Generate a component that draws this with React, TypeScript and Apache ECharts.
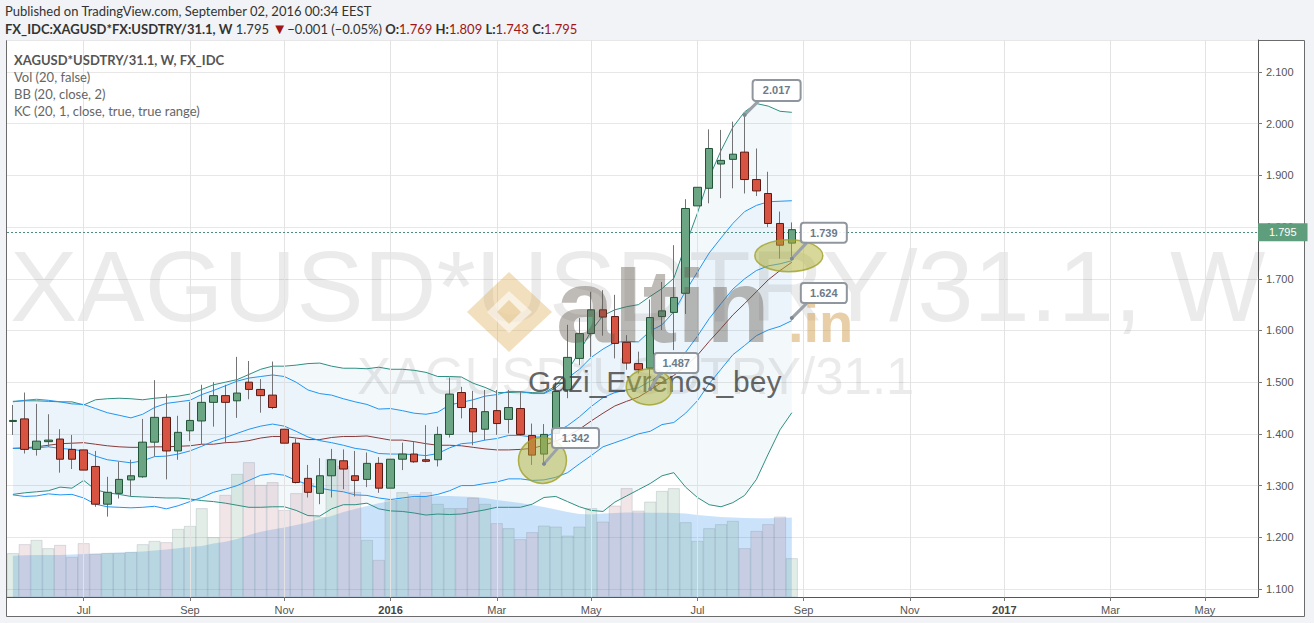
import React, { useEffect, useRef } from 'react';
import * as echarts from 'echarts';

// ---------- categories (weekly bars, Mondays) ----------
const START_UTC = Date.UTC(2015, 4, 25);
const WEEK_COUNT = 106;
const categories: string[] = Array.from({ length: WEEK_COUNT }, (_, i) =>
  new Date(START_UTC + i * 7 * 86400000).toISOString().slice(0, 10)
);

const tickDates = ['2015-07-06', '2015-09-07', '2015-11-02', '2016-01-04', '2016-03-07', '2016-05-02',
  '2016-07-04', '2016-09-05', '2016-11-07', '2017-01-02', '2017-03-06', '2017-05-01'];
const tickLabels = ['Jul', 'Sep', 'Nov', '2016', 'Mar', 'May', 'Jul', 'Sep', 'Nov', '2017', 'Mar', 'May'];

// ---------- OHLC ----------
const opens = [
  1.424, 1.429, 1.370, 1.385, 1.390, 1.370, 1.369, 1.337, 1.264, 1.285,
  1.311, 1.317, 1.384, 1.432, 1.367, 1.406, 1.425, 1.461, 1.474, 1.464,
  1.500, 1.486, 1.475, 1.409, 1.382, 1.314, 1.285, 1.319, 1.348, 1.319,
  1.312, 1.343, 1.295, 1.351, 1.361, 1.350, 1.350, 1.399, 1.480, 1.449,
  1.409, 1.445, 1.428, 1.449, 1.397, 1.361, 1.401, 1.485, 1.546, 1.594,
  1.640, 1.627, 1.577, 1.536, 1.527, 1.627, 1.635, 1.672, 1.841, 1.875,
  1.922, 1.931, 1.945, 1.892, 1.865, 1.807, 1.769];
const closes = [
  1.426, 1.370, 1.386, 1.388, 1.351, 1.351, 1.330, 1.264, 1.287, 1.312,
  1.319, 1.384, 1.432, 1.367, 1.403, 1.426, 1.461, 1.474, 1.461, 1.479,
  1.486, 1.474, 1.451, 1.382, 1.306, 1.287, 1.319, 1.350, 1.332, 1.310,
  1.343, 1.295, 1.351, 1.361, 1.346, 1.347, 1.399, 1.477, 1.451, 1.404,
  1.443, 1.420, 1.451, 1.399, 1.359, 1.399, 1.482, 1.548, 1.594, 1.640,
  1.626, 1.575, 1.537, 1.524, 1.625, 1.638, 1.664, 1.836, 1.877, 1.952,
  1.929, 1.941, 1.892, 1.870, 1.807, 1.765, 1.795];
const highs = [
  1.456, 1.480, 1.458, 1.438, 1.409, 1.398, 1.383, 1.367, 1.317, 1.346,
  1.350, 1.429, 1.504, 1.477, 1.435, 1.462, 1.495, 1.500, 1.495, 1.549,
  1.541, 1.506, 1.540, 1.430, 1.391, 1.340, 1.353, 1.371, 1.370, 1.367,
  1.364, 1.355, 1.399, 1.383, 1.385, 1.417, 1.414, 1.509, 1.491, 1.483,
  1.485, 1.485, 1.485, 1.482, 1.420, 1.419, 1.500, 1.611, 1.624, 1.675,
  1.678, 1.669, 1.591, 1.559, 1.660, 1.694, 1.765, 1.854, 1.975, 1.989,
  1.988, 2.004, 2.017, 1.952, 1.907, 1.830, 1.809];
const lows = [
  1.398, 1.362, 1.358, 1.375, 1.325, 1.332, 1.262, 1.259, 1.240, 1.275,
  1.280, 1.315, 1.356, 1.312, 1.350, 1.386, 1.380, 1.414, 1.382, 1.431,
  1.467, 1.441, 1.448, 1.353, 1.304, 1.277, 1.264, 1.277, 1.293, 1.279,
  1.297, 1.286, 1.293, 1.330, 1.344, 1.345, 1.337, 1.393, 1.430, 1.378,
  1.388, 1.398, 1.401, 1.396, 1.340, 1.342, 1.387, 1.469, 1.533, 1.549,
  1.590, 1.546, 1.524, 1.517, 1.487, 1.601, 1.562, 1.632, 1.785, 1.846,
  1.856, 1.875, 1.865, 1.860, 1.800, 1.739, 1.743];

// ---------- volume (relative units) ----------
const volumes = [
  43.7, 52.7, 57, 48.7, 52, 40, 53.7, 43, 44, 44,
  45, 52.7, 56, 54.7, 68, 71, 88.7, 59.7, 102, 123,
  134.7, 112, 114.7, 87, 103.7, 113.7, 80, 138, 131, 105,
  57, 37, 97, 104.7, 102.7, 104.7, 93, 88.7, 88.7, 99.3,
  93, 73.7, 68.7, 57.7, 64.7, 71.3, 70.3, 61.3, 70.3, 88.7,
  75.3, 91.3, 108.7, 86.3, 95.3, 106, 108.7, 74.7, 56, 68.7,
  72.7, 76, 48.7, 66, 72.7, 80.3, 38.7];
const volumeMA = [
  41.3, 41.7, 42, 42, 42, 42.5, 43, 43.5, 44, 44.5,
  45, 45.5, 46.5, 47.5, 48.7, 50, 51, 53.5, 55.3, 58,
  62, 65.3, 67.5, 69.5, 72, 74.5, 78, 81, 85, 88,
  91, 93.7, 96, 98, 99.5, 100.3, 101, 101, 100.5, 100,
  99, 97, 95.5, 94, 92, 90, 87.5, 85, 83, 82.5,
  83.5, 84, 84.5, 84.5, 84.3, 84.3, 84, 83.5, 82, 81,
  80, 79.5, 79, 78.7, 78.7, 79, 79.5];

// ---------- Bollinger Bands (20, close, 2) ----------
const bbUpper = [
  1.463, 1.464, 1.464, 1.463, 1.462, 1.462, 1.456, 1.466, 1.468, 1.469,
  1.468, 1.466, 1.469, 1.471, 1.473, 1.477, 1.486, 1.495, 1.500, 1.505,
  1.515, 1.525, 1.531, 1.531, 1.533, 1.536, 1.537, 1.531, 1.527, 1.527,
  1.526, 1.529, 1.525, 1.525, 1.523, 1.519, 1.511, 1.511, 1.510, 1.498,
  1.490, 1.480, 1.480, 1.481, 1.480, 1.479, 1.493, 1.522, 1.559, 1.599,
  1.629, 1.640, 1.646, 1.650, 1.666, 1.681, 1.701, 1.765, 1.827, 1.896,
  1.948, 1.993, 2.023, 2.039, 2.034, 2.024, 2.022];
const bbBasis = [
  1.372, 1.373, 1.375, 1.378, 1.381, 1.382, 1.383, 1.380, 1.377, 1.375,
  1.374, 1.374, 1.375, 1.375, 1.376, 1.377, 1.380, 1.380, 1.383, 1.384,
  1.387, 1.392, 1.395, 1.395, 1.392, 1.389, 1.389, 1.393, 1.395, 1.395,
  1.396, 1.392, 1.388, 1.388, 1.385, 1.381, 1.378, 1.378, 1.377, 1.374,
  1.371, 1.369, 1.369, 1.370, 1.372, 1.378, 1.386, 1.396, 1.409, 1.425,
  1.440, 1.454, 1.463, 1.471, 1.485, 1.500, 1.513, 1.531, 1.552, 1.579,
  1.604, 1.630, 1.652, 1.675, 1.698, 1.716, 1.732];
const bbLower = [
  1.283, 1.286, 1.288, 1.290, 1.297, 1.295, 1.310, 1.292, 1.286, 1.283,
  1.279, 1.278, 1.277, 1.276, 1.276, 1.274, 1.271, 1.269, 1.266, 1.262,
  1.258, 1.258, 1.259, 1.259, 1.252, 1.242, 1.241, 1.255, 1.263, 1.263,
  1.266, 1.255, 1.251, 1.250, 1.247, 1.243, 1.245, 1.244, 1.245, 1.249,
  1.253, 1.258, 1.258, 1.258, 1.264, 1.277, 1.279, 1.269, 1.259, 1.252,
  1.250, 1.268, 1.280, 1.292, 1.304, 1.319, 1.325, 1.297, 1.277, 1.263,
  1.259, 1.267, 1.281, 1.312, 1.361, 1.408, 1.441];

// ---------- Keltner Channels (20, 1, true range) ----------
const kcUpper = [
  1.462, 1.465, 1.467, 1.465, 1.462, 1.458, 1.457, 1.449, 1.441, 1.436,
  1.431, 1.438, 1.451, 1.459, 1.462, 1.465, 1.476, 1.484, 1.493, 1.502,
  1.508, 1.511, 1.514, 1.511, 1.500, 1.485, 1.478, 1.475, 1.468, 1.462,
  1.457, 1.448, 1.449, 1.445, 1.440, 1.438, 1.442, 1.456, 1.461, 1.466,
  1.473, 1.476, 1.482, 1.482, 1.478, 1.478, 1.489, 1.508, 1.525, 1.548,
  1.564, 1.577, 1.579, 1.578, 1.599, 1.611, 1.636, 1.676, 1.713, 1.750,
  1.779, 1.807, 1.830, 1.842, 1.849, 1.850, 1.851];
const kcBasis = [
  1.372, 1.372, 1.373, 1.375, 1.372, 1.370, 1.367, 1.357, 1.350, 1.347,
  1.344, 1.348, 1.356, 1.357, 1.361, 1.367, 1.376, 1.386, 1.393, 1.401,
  1.409, 1.415, 1.419, 1.415, 1.405, 1.394, 1.387, 1.383, 1.378, 1.372,
  1.369, 1.362, 1.361, 1.361, 1.360, 1.358, 1.362, 1.373, 1.381, 1.383,
  1.388, 1.391, 1.397, 1.397, 1.394, 1.394, 1.403, 1.416, 1.433, 1.453,
  1.470, 1.480, 1.485, 1.489, 1.502, 1.515, 1.529, 1.558, 1.589, 1.623,
  1.652, 1.680, 1.700, 1.716, 1.725, 1.729, 1.735];
const kcLower = [
  1.282, 1.279, 1.280, 1.284, 1.282, 1.283, 1.276, 1.264, 1.259, 1.258,
  1.257, 1.258, 1.260, 1.255, 1.261, 1.269, 1.277, 1.287, 1.293, 1.300,
  1.310, 1.320, 1.323, 1.320, 1.310, 1.302, 1.295, 1.291, 1.288, 1.282,
  1.281, 1.276, 1.273, 1.276, 1.279, 1.279, 1.283, 1.290, 1.300, 1.300,
  1.304, 1.307, 1.313, 1.313, 1.310, 1.311, 1.316, 1.325, 1.342, 1.358,
  1.375, 1.383, 1.391, 1.400, 1.405, 1.418, 1.422, 1.440, 1.464, 1.497,
  1.525, 1.553, 1.571, 1.590, 1.601, 1.608, 1.619];

const lastPrice = 1.795;

// annotated points: bar index + price
const calloutIdx = [62, 66, 66, 54, 45];
const calloutPrice = [2.017, 1.739, 1.624, 1.487, 1.342];
const circledIdx = [45, 54, 66];
const circledPrice = [1.342, 1.487, 1.739];

const UP = '#6ba583';
const UP_BORDER = '#225437';
const DOWN = '#d75442';
const DOWN_BORDER = '#5b1a13';
const WICK = '#737375';
const AXIS_FONT = "'Liberation Sans', Arial, sans-serif";
const UI_FONT = "Lato, 'Liberation Sans', sans-serif";

export default function App() {
  const ref = useRef<HTMLDivElement>(null);

  useEffect(() => {
    const el = ref.current;
    if (!el) return;
    const chart = echarts.init(el, undefined, { renderer: 'svg', width: 1314, height: 623 });

    const isTick = (_i: number, v: string) => tickDates.indexOf(v) >= 0;
    const bodyData = opens.map((o, i) => [o, closes[i], Math.min(o, closes[i]), Math.max(o, closes[i])]);
    const wickData = opens.map((o, i) => [o, closes[i], lows[i], highs[i]]);
    const volData = volumes.map((v, i) => ({
      value: v,
      itemStyle: { color: closes[i] >= opens[i] ? 'rgba(107,165,131,0.2)' : 'rgba(185,125,135,0.2)' },
    }));
    const bbDiff = bbUpper.map((u, i) => +(u - bbLower[i]).toFixed(4));
    const kcDiff = kcUpper.map((u, i) => +(u - kcLower[i]).toFixed(4));
    const hidden = { opacity: 0 };

    const option: any = {
      animation: false,
      backgroundColor: '#f1f3f6',
      grid: { left: 7, right: 56, top: 40, bottom: 26, containLabel: false },
      xAxis: [{
        type: 'category',
        data: categories,
        boundaryGap: true,
        axisLine: { lineStyle: { color: '#555', width: 1 } },
        axisTick: { show: true, alignWithLabel: true, interval: isTick, length: 4, lineStyle: { color: '#777' } },
        axisLabel: {
          interval: isTick,
          color: '#555',
          fontSize: 11,
          fontFamily: AXIS_FONT,
          margin: 7,
          formatter: (v: string) => {
            const t = tickLabels[tickDates.indexOf(v)] || '';
            return /^\d{4}$/.test(t) ? '{y|' + t + '}' : t;
          },
          rich: { y: { fontWeight: 'bold', color: '#444', fontSize: 11, fontFamily: AXIS_FONT } },
        },
        splitLine: { show: false },
      }],
      yAxis: [
        {
          type: 'value',
          position: 'right',
          min: 1.0845,
          max: 2.1619,
          splitNumber: 11,
          axisLine: { show: true, lineStyle: { color: '#555' } },
          axisTick: { show: true, length: 4, lineStyle: { color: '#777' } },
          axisLabel: {
            color: '#555', fontSize: 11, fontFamily: AXIS_FONT, margin: 8,
            showMinLabel: false, showMaxLabel: false,
            formatter: (v: number) => v.toFixed(3),
          },
          splitLine: { show: true, lineStyle: { color: '#e7e7e7' } },
        },
        { type: 'value', min: 0, max: 557, show: false, splitLine: { show: false } },
      ],
      series: [
        {
          name: 'vol', type: 'bar', yAxisIndex: 1, data: volData, barWidth: '100%', z: 1,
          itemStyle: { borderColor: 'rgba(110,120,140,0.35)', borderWidth: 0.6 }, silent: true,
        },
        {
          name: 'volMA', type: 'line', yAxisIndex: 1, data: volumeMA, symbol: 'none', z: 1,
          lineStyle: hidden, areaStyle: { color: 'rgba(30,135,235,0.33)' }, silent: true,
        },
        {
          name: 'bbBase', type: 'line', data: bbLower, stack: 'bbFill', symbol: 'none', lineStyle: hidden, z: 1, silent: true,
          markLine: {
            silent: true, symbol: ['none', 'none'], label: { show: false },
            lineStyle: { color: '#e3e3e3', width: 1, type: 'solid' },
            data: tickDates.map((d) => ({ xAxis: d })),
          },
        },
        {
          name: 'bbBand', type: 'line', data: bbDiff, stack: 'bbFill', symbol: 'none', lineStyle: hidden, z: 1, silent: true,
          areaStyle: { color: 'rgba(80,160,200,0.1)' },
        },
        { name: 'kcBase', type: 'line', data: kcLower, stack: 'kcFill', symbol: 'none', lineStyle: hidden, z: 1, silent: true },
        {
          name: 'kcBand', type: 'line', data: kcDiff, stack: 'kcFill', symbol: 'none', lineStyle: hidden, z: 1, silent: true,
          areaStyle: { color: 'rgba(33,150,243,0.05)' },
        },
        { name: 'BB upper', type: 'line', data: bbUpper, symbol: 'none', z: 3, lineStyle: { color: '#2f8f83', width: 1 } },
        { name: 'BB lower', type: 'line', data: bbLower, symbol: 'none', z: 3, lineStyle: { color: '#2f8f83', width: 1 } },
        { name: 'BB basis', type: 'line', data: bbBasis, symbol: 'none', z: 3, lineStyle: { color: '#8a3a3a', width: 1 } },
        { name: 'KC upper', type: 'line', data: kcUpper, symbol: 'none', z: 3, lineStyle: { color: '#2196f3', width: 1 } },
        { name: 'KC basis', type: 'line', data: kcBasis, symbol: 'none', z: 3, lineStyle: { color: '#2196f3', width: 1 } },
        { name: 'KC lower', type: 'line', data: kcLower, symbol: 'none', z: 3, lineStyle: { color: '#2196f3', width: 1 } },
        {
          name: 'wicks', type: 'candlestick', data: wickData, barWidth: 1, z: 4,
          itemStyle: { color: WICK, color0: WICK, borderColor: WICK, borderColor0: WICK, borderWidth: 1 },
        },
        {
          name: 'bodies', type: 'candlestick', data: bodyData, barWidth: 8, z: 5,
          itemStyle: { color: UP, color0: DOWN, borderColor: UP_BORDER, borderColor0: DOWN_BORDER, borderWidth: 1 },
          markLine: {
            silent: true, symbol: ['none', 'none'],
            lineStyle: { color: '#4f8f7f', type: [2, 2], width: 1 },
            label: {
              show: true, position: 'end', distance: 0, formatter: lastPrice.toFixed(3),
              backgroundColor: '#5f9e7c', color: '#fff', fontSize: 11, fontFamily: AXIS_FONT,
              padding: [4, 11, 3, 11],
            },
            data: [{ yAxis: lastPrice }],
          },
        },
      ],
    };

    chart.setOption(option);

    const px = (idx: number, price: number) =>
      chart.convertToPixel({ xAxisIndex: 0, yAxisIndex: 0 } as any, [categories[idx], price]) as number[];

    const g: any[] = [];
    // panel background
    g.push({
      type: 'rect', z: -10, silent: true,
      shape: { x: 6.5, y: 40.5, width: 1298, height: 576 },
      style: { fill: '#ffffff', stroke: '#6b6b6b', lineWidth: 1 },
    });
    // header
    g.push({
      type: 'text', x: 5, y: 4, z: 10, silent: true,
      style: { text: 'Published on TradingView.com, September 02, 2016 00:34 EEST', fill: '#333', font: '13px ' + UI_FONT },
    });
    g.push({
      type: 'text', x: 5, y: 21, z: 10, silent: true,
      style: {
        text: '{b|FX_IDC:XAGUSD*FX:USDTRY/31.1, W} {n|1.795} {t|▼}{n|−0.001 (−0.05%)} {b|O:}{r|1.769} {b|H:}{r|1.809} {b|L:}{r|1.743} {b|C:}{r|1.795}',
        font: '13px ' + UI_FONT,
        fill: '#333',
        rich: {
          b: { fontWeight: 'bold', fill: '#333', fontSize: 13, fontFamily: UI_FONT },
          n: { fill: '#333', fontSize: 13, fontFamily: UI_FONT },
          r: { fill: '#a01515', fontSize: 13, fontFamily: UI_FONT },
          t: { fill: '#a01515', fontSize: 15, fontFamily: AXIS_FONT },
        },
      },
    });
    // indicator legend
    const legendLines = ['Vol (20, false)', 'BB (20, close, 2)', 'KC (20, 1, close, true, true range)'];
    g.push({
      type: 'text', x: 14, y: 60, z: 10, silent: true,
      style: { text: 'XAGUSD*USDTRY/31.1, W, FX_IDC', fill: '#555', font: 'bold 13px ' + UI_FONT, verticalAlign: 'middle' },
    });
    legendLines.forEach((t, i) => g.push({
      type: 'text', x: 14, y: 77 + i * 17, z: 10, silent: true,
      style: { text: t, fill: '#666', font: '13px ' + UI_FONT, verticalAlign: 'middle' },
    }));
    // watermarks
    g.push({
      type: 'text', x: 10, y: 286, z: 2, silent: true,
      style: { text: 'XAGUSD*USDTRY/31.1, W', fill: 'rgba(60,60,60,0.1)', font: '101px ' + AXIS_FONT, verticalAlign: 'middle' },
    });
    g.push({
      type: 'text', x: 357, y: 376, z: 2, silent: true,
      style: { text: 'XAGUSD*USDTRY/31.1', fill: 'rgba(60,60,60,0.1)', font: '51px ' + AXIS_FONT, verticalAlign: 'middle' },
    });
    // altin.in logo
    g.push({
      type: 'polygon', z: 6, silent: true,
      shape: { points: [[467, 312], [509, 272], [552, 312], [509, 352]] },
      style: { fill: 'rgba(222,176,92,0.4)' },
    });
    g.push({
      type: 'polygon', z: 6, silent: true,
      shape: { points: [[487, 312], [509, 291], [532, 312], [509, 333]] },
      style: { fill: 'rgba(255,255,255,0.55)' },
    });
    g.push({
      type: 'polygon', z: 6, silent: true,
      shape: { points: [[497, 312], [509, 300], [521, 312], [509, 324]] },
      style: { fill: 'rgba(222,176,92,0.4)' },
    });
    g.push({
      type: 'text', x: 556, y: 306, z: 6, silent: true,
      style: { text: 'altin', fill: 'rgba(95,85,75,0.4)', font: 'bold 104px ' + AXIS_FONT, verticalAlign: 'middle' },
    });
    g.push({
      type: 'text', x: 788, y: 322, z: 6, silent: true,
      style: { text: '.in', fill: 'rgba(210,160,80,0.5)', font: 'bold 56px ' + AXIS_FONT, verticalAlign: 'middle' },
    });
    g.push({
      type: 'text', x: 528, y: 381, z: 6, silent: true,
      style: { text: 'Gazi_Evrenos_bey', fill: 'rgba(60,60,60,0.78)', font: '30px ' + AXIS_FONT, verticalAlign: 'middle' },
    });

    // circled areas
    const ellipseSpec = [
      { dx: -1.5, dy: -3.5, rx: 24, ry: 23 },
      { dx: -1, dy: -2, rx: 23, ry: 18 },
      { dx: -3, dy: -3, rx: 34, ry: 16 },
    ];
    circledIdx.forEach((idx, i) => {
      const [x, y] = px(idx, circledPrice[i]);
      const s = ellipseSpec[i];
      g.push({
        type: 'ellipse', z: 7, silent: true,
        shape: { cx: x + s.dx, cy: y + s.dy, rx: s.rx, ry: s.ry },
        style: { fill: 'rgba(178,178,56,0.5)', stroke: 'rgba(160,160,40,0.8)', lineWidth: 1.5 },
      });
    });

    // price callouts
    const boxSpec = [
      { bx: 8, by: -35, w: 48, h: 21 },
      { bx: 9, by: -36, w: 46, h: 20 },
      { bx: 9, by: -35, w: 46, h: 20 },
      { bx: 4, by: -36, w: 44, h: 20 },
      { bx: 8, by: -36, w: 47, h: 20 },
    ];
    calloutIdx.forEach((idx, i) => {
      const price = calloutPrice[i];
      const [x, y] = px(idx, price);
      const b = boxSpec[i];
      g.push({
        type: 'line', z: 8, silent: true,
        shape: { x1: x, y1: y, x2: x + b.bx + 6, y2: y + b.by + b.h },
        style: { stroke: '#9aa1a9', lineWidth: 3 },
      });
      g.push({
        type: 'circle', z: 8, silent: true,
        shape: { cx: x, cy: y, r: 2 },
        style: { fill: '#7f8891' },
      });
      g.push({
        type: 'rect', z: 8, silent: true,
        shape: { x: x + b.bx, y: y + b.by, width: b.w, height: b.h, r: 3 },
        style: { fill: 'rgba(255,255,255,0.88)', stroke: '#8f969d', lineWidth: 2 },
      });
      g.push({
        type: 'text', z: 9, silent: true,
        x: x + b.bx + b.w / 2, y: y + b.by + b.h / 2,
        style: {
          text: price.toFixed(3), fill: '#6c7a89', font: 'bold 11px ' + AXIS_FONT,
          align: 'center', verticalAlign: 'middle',
        },
      });
    });

    chart.setOption({ graphic: g });

    return () => chart.dispose();
  }, []);

  return <div ref={ref} style={{ position: 'fixed', left: 0, top: 0, width: 1314, height: 623 }} />;
}
